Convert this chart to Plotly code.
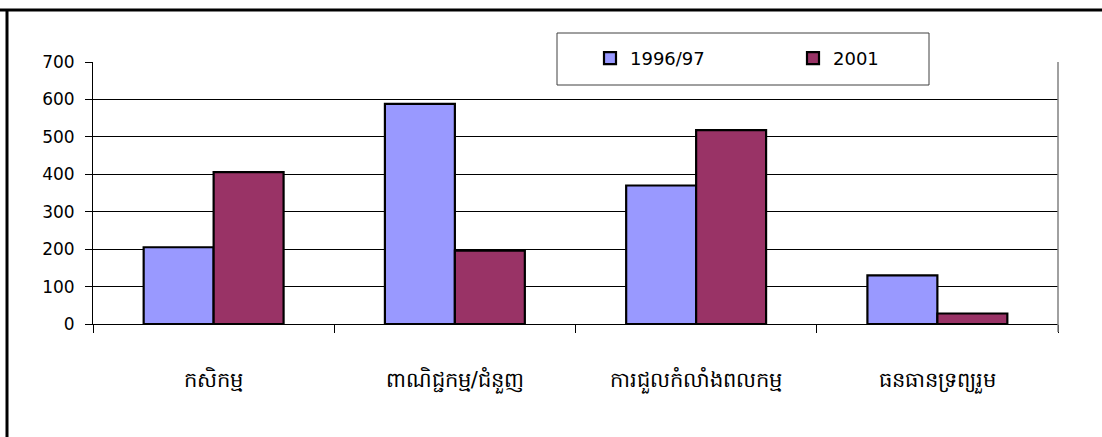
import plotly.graph_objects as go

categories = ["កសិកម្ម", "ពាណិជ្ជកម្ម/ជំនួញ", "ការជួលកំលាំងពលកម្ម", "ធនធានទ្រព្យរួម"]
series_names = ["1996/97", "2001"]
values_1996 = [205, 588, 370, 130]
values_2001 = [406, 196, 518, 28]
y_ticks = [0, 100, 200, 300, 400, 500, 600, 700]

W, H = 1102, 437
L, R, T, B = 93, 44, 62, 113
pw, ph = W - L - R, H - T - B

def px_x(x):
    return (x - L) / pw

def px_y(y):
    return (H - B - y) / ph

fig = go.Figure()
fig.add_trace(go.Bar(name=series_names[0], x=categories, y=values_1996,
                     marker=dict(color="#9999FF", line=dict(color="black", width=2.2))))
fig.add_trace(go.Bar(name=series_names[1], x=categories, y=values_2001,
                     marker=dict(color="#993366", line=dict(color="black", width=2.2))))

fig.update_layout(
    width=W, height=H,
    margin=dict(l=L, r=R, t=T, b=B, pad=0),
    paper_bgcolor="white", plot_bgcolor="white",
    barmode="group", bargap=0.42, bargroupgap=0,
    font=dict(family="DejaVu Sans", color="black"),
    showlegend=True,
    legend=dict(orientation="h", x=px_x(590), y=px_y(40), xanchor="left", yanchor="top",
                font=dict(size=18, family="DejaVu Sans"), entrywidth=158, entrywidthmode="pixels",
                bgcolor="rgba(0,0,0,0)", borderwidth=0, itemwidth=30, tracegroupgap=0),
    xaxis=dict(showline=True, linecolor="black", linewidth=1, ticks="outside", tickson="boundaries",
               ticklen=8, tickcolor="black", tickfont=dict(size=21),
               ticklabelstandoff=37, showgrid=False, fixedrange=True),
    yaxis=dict(range=[0, 700], tickvals=y_ticks, showline=True, linecolor="black", linewidth=1,
               ticks="outside", ticklen=7, tickcolor="black", showgrid=True, gridcolor="black",
               gridwidth=1, zeroline=False, tickfont=dict(size=17), ticklabelstandoff=7,
               fixedrange=True),
    shapes=[
        dict(type="line", xref="paper", yref="paper", x0=1, x1=1, y0=px_y(332), y1=1,
             line=dict(color="#808080", width=1.5)),
        dict(type="rect", xref="paper", yref="paper", x0=px_x(557), x1=px_x(929), y0=px_y(85), y1=px_y(33),
             line=dict(color="#404040", width=1), fillcolor="white", layer="above"),
        dict(type="line", xref="paper", yref="paper", x0=px_x(0), x1=px_x(W), y0=px_y(10), y1=px_y(10),
             line=dict(color="black", width=3)),
        dict(type="line", xref="paper", yref="paper", x0=px_x(7), x1=px_x(7), y0=px_y(H), y1=px_y(10),
             line=dict(color="black", width=3)),
    ],
)

fig.write_html("out.html", config={"displayModeBar": False},
               post_script="document.body.style.margin='0';document.body.style.overflow='hidden';")
